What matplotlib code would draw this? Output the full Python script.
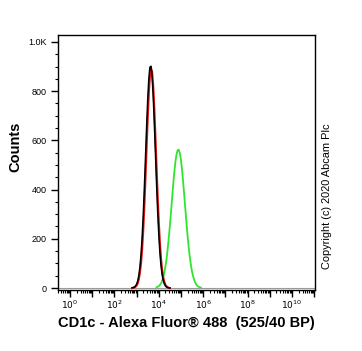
import matplotlib
matplotlib.use("Agg")
import matplotlib.pyplot as plt
import matplotlib.ticker as mticker
import numpy as np

plt.rcParams['font.family'] = ['Liberation Sans', 'DejaVu Sans']

# log10 of fluorescence intensity and event counts
black_log = [2.80, 2.85, 2.90, 2.95, 3.00, 3.05, 3.10, 3.15, 3.20, 3.25, 3.30, 3.35,
             3.40, 3.45, 3.50, 3.55, 3.60, 3.65, 3.70, 3.75, 3.80, 3.85, 3.90, 3.95,
             4.00, 4.05, 4.10, 4.15, 4.20, 4.25, 4.30, 4.35, 4.40, 4.45, 4.50]
black_counts = [1, 2, 4, 8, 15, 28, 50, 84, 134, 204, 294, 403,
                524, 648, 760, 847, 897, 901, 860, 780, 671, 549, 426, 314,
                220, 146, 92, 55, 31, 17, 9, 4, 2, 1, 0]

red_log = black_log
red_counts = [0, 1, 2, 5, 10, 19, 35, 61, 100, 157, 234, 331,
              444, 566, 685, 788, 860, 893, 878, 821, 729, 615, 493, 374,
              271, 186, 121, 75, 44, 25, 13, 7, 3, 1, 0]

green_log = [3.90, 3.95, 4.00, 4.05, 4.10, 4.15, 4.20, 4.25, 4.30, 4.35, 4.40, 4.45,
             4.50, 4.55, 4.60, 4.65, 4.70, 4.75, 4.80, 4.85, 4.90, 4.95, 5.00, 5.05,
             5.10, 5.15, 5.20, 5.25, 5.30, 5.35, 5.40, 5.45, 5.50, 5.55, 5.60, 5.65,
             5.70, 5.75, 5.80, 5.85, 5.90]
green_counts = [3, 5, 8, 12, 19, 29, 43, 62, 87, 118, 157, 202,
                252, 307, 364, 420, 470, 513, 543, 560, 562, 548, 520, 479,
                430, 375, 319, 263, 211, 165, 125, 93, 66, 47, 32, 21,
                13, 8, 5, 3, 2]

y_ticks = [0, 200, 400, 600, 800, 1000]
y_tick_labels = ["0", "200", "400", "600", "800", "1.0K"]

fig = plt.figure(figsize=(3.62, 3.51), dpi=100)
ax = fig.add_axes([58/362, 1-290/351, (315-58)/362, (290-35)/351])

ax.axhline(0, color='#9a9a9a', lw=0.8, zorder=1)
ax.plot(10**np.array(green_log), green_counts, color='#2ee62e', lw=1.3, zorder=2)
ax.plot(10**np.array(red_log), red_counts, color='#e01010', lw=1.5, zorder=3)
ax.plot(10**np.array(black_log), black_counts, color='black', lw=1.1, zorder=4)

ax.set_xscale('log')
ax.set_xlim(10**-0.54, 10**11.04)
ax.set_ylim(-8, 1028)

ax.xaxis.set_major_locator(mticker.LogLocator(base=10, numticks=20))
ax.xaxis.set_minor_locator(mticker.LogLocator(base=10, subs=np.arange(2, 10), numticks=20))

def xfmt(v, pos):
    e = int(round(np.log10(v)))
    if e % 2 == 0 and 0 <= e <= 10:
        return r'$10^{%d}$' % e
    return ''
ax.xaxis.set_major_formatter(mticker.FuncFormatter(xfmt))
ax.xaxis.set_minor_formatter(mticker.NullFormatter())

ax.set_yticks(y_ticks)
ax.set_yticklabels(y_tick_labels)
ax.yaxis.set_minor_locator(mticker.MultipleLocator(50))

ax.tick_params(axis='both', which='major', direction='out', length=5, width=1, labelsize=6.5)
ax.tick_params(axis='both', which='minor', direction='out', length=2.5, width=0.8)
ax.tick_params(axis='x', which='major', pad=1)
ax.tick_params(axis='y', which='major', pad=3)
for s in ax.spines.values():
    s.set_linewidth(1.0)

ax.set_xlabel("CD1c - Alexa Fluor® 488  (525/40 BP)", fontsize=10.5, fontweight='bold', labelpad=4)
ax.set_ylabel("Counts", fontsize=10.5, fontweight='bold')
ax.yaxis.set_label_coords((22 - 58) / 257, (290 - 147) / 255)

fig.text(327/362, 1-196/351, "Copyright (c) 2020 Abcam Plc", rotation=90,
         fontsize=7.9, ha='center', va='center')

fig.savefig("out.png", dpi=100)
